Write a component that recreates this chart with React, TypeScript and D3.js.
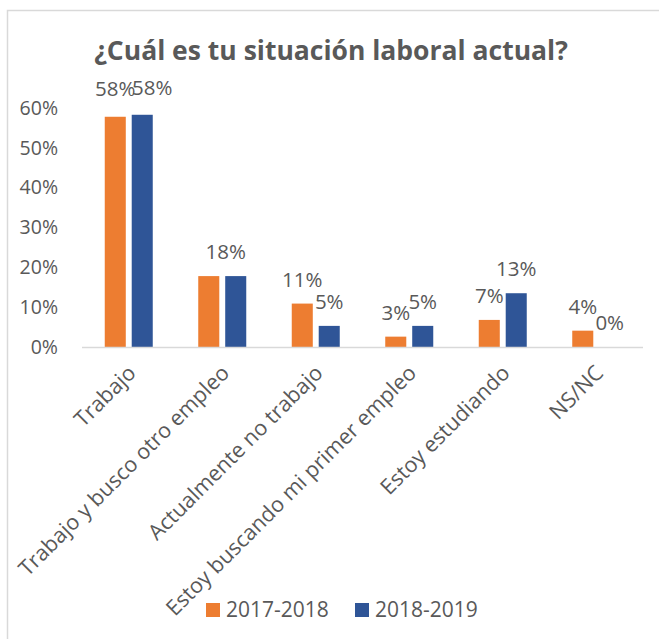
import React from "react";
import * as d3 from "d3";

const categories = [
  "Trabajo",
  "Trabajo y busco otro empleo",
  "Actualmente no trabajo",
  "Estoy buscando mi primer empleo",
  "Estoy estudiando",
  "NS/NC",
];
const seriesNames = ["2017-2018", "2018-2019"];
const values2017 = [0.578, 0.178, 0.109, 0.026, 0.068, 0.041];
const values2018 = [0.583, 0.178, 0.053, 0.053, 0.135, 0.0];
const labels2017 = ["58%", "", "11%", "3%", "7%", "4%"];
const labels2018 = ["58%", "18%", "5%", "5%", "13%", "0%"];
const yTicks = [0, 0.1, 0.2, 0.3, 0.4, 0.5, 0.6];
const colors = ["#ED7D31", "#2F5597"];

// label nudges (style): [series][category] => [dx, dy]
const labelNudge: [number, number][][] = [
  [[0, -4], [0, 0], [0, 0], [0, 0], [0, 0], [0, 0]],
  [[10, -3], [-10, 0], [0, 0], [0, 0], [0, 0], [0, 0]],
];

const W = 659;
const H = 639;
const FONT = "'Open Sans', 'DejaVu Sans', sans-serif";
const TXT = "#595959";

export default function App() {
  const left = 82;
  const right = 643;
  const base = 347;
  const top = 108;
  const x0 = d3.scaleBand<string>().domain(categories).range([left, right]);
  const x1 = d3.scaleBand<string>().domain(seriesNames).range([-24, 24]).paddingInner(0.22);
  const y = d3.scaleLinear().domain([0, 0.6]).range([base, top]);
  const fmt = d3.format(".0%");
  const allValues = [values2017, values2018];
  const allLabels = [labels2017, labels2018];

  return (
    <svg
      width={W}
      height={H}
      style={{ position: "absolute", left: 0, top: 0, background: "#fff" }}
      fontFamily={FONT}
    >
      <rect x={0} y={0} width={W} height={H} fill="#fff" />
      <rect x={7.5} y={10.5} width={W + 10} height={H + 10} fill="none" stroke="#d9d9d9" strokeWidth={1.5} />
      <text x={331} y={60} textAnchor="middle" fontSize={26.5} fontWeight={700} fill={TXT}>
        ¿Cuál es tu situación laboral actual?
      </text>
      {yTicks.map((t) => (
        <text key={t} x={58} y={y(t)} dy="0.35em" textAnchor="end" fontSize={19.5} fill={TXT}>
          {fmt(t)}
        </text>
      ))}
      {allValues.map((vals, s) =>
        vals.map((v, i) => {
          const xc = (x0(categories[i]) as number) + x0.bandwidth() / 2;
          const bx = xc + (x1(seriesNames[s]) as number);
          return (
            <rect
              key={`b${s}-${i}`}
              x={bx}
              y={y(v)}
              width={x1.bandwidth()}
              height={base - y(v)}
              fill={colors[s]}
            />
          );
        })
      )}
      <line x1={left} x2={right} y1={base + 0.5} y2={base + 0.5} stroke="#d9d9d9" strokeWidth={1.5} />
      {allValues.map((vals, s) =>
        vals.map((v, i) => {
          const lab = allLabels[s][i];
          if (!lab) return null;
          const xc = (x0(categories[i]) as number) + x0.bandwidth() / 2;
          const bx = xc + (x1(seriesNames[s]) as number) + x1.bandwidth() / 2;
          const [dx, dy] = labelNudge[s][i];
          return (
            <text
              key={`l${s}-${i}`}
              x={bx + dx}
              y={y(v) - 24 + dy}
              dy="0.35em"
              textAnchor="middle"
              fontSize={20.5}
              fill={TXT}
            >
              {lab}
            </text>
          );
        })
      )}
      {categories.map((c) => {
        const xc = (x0(c) as number) + x0.bandwidth() / 2;
        return (
          <text
            key={c}
            transform={`translate(${xc + 3},${369}) rotate(-45)`}
            textAnchor="end"
            dy="0.35em"
            fontSize={21.5}
            fill={TXT}
          >
            {c}
          </text>
        );
      })}
      {seriesNames.map((n, s) => {
        const lx = s === 0 ? 206 : 355;
        return (
          <g key={n}>
            <rect x={lx} y={603} width={14} height={14} fill={colors[s]} />
            <text x={lx + 20} y={610} dy="0.35em" fontSize={21} fill={TXT}>
              {n}
            </text>
          </g>
        );
      })}
    </svg>
  );
}
